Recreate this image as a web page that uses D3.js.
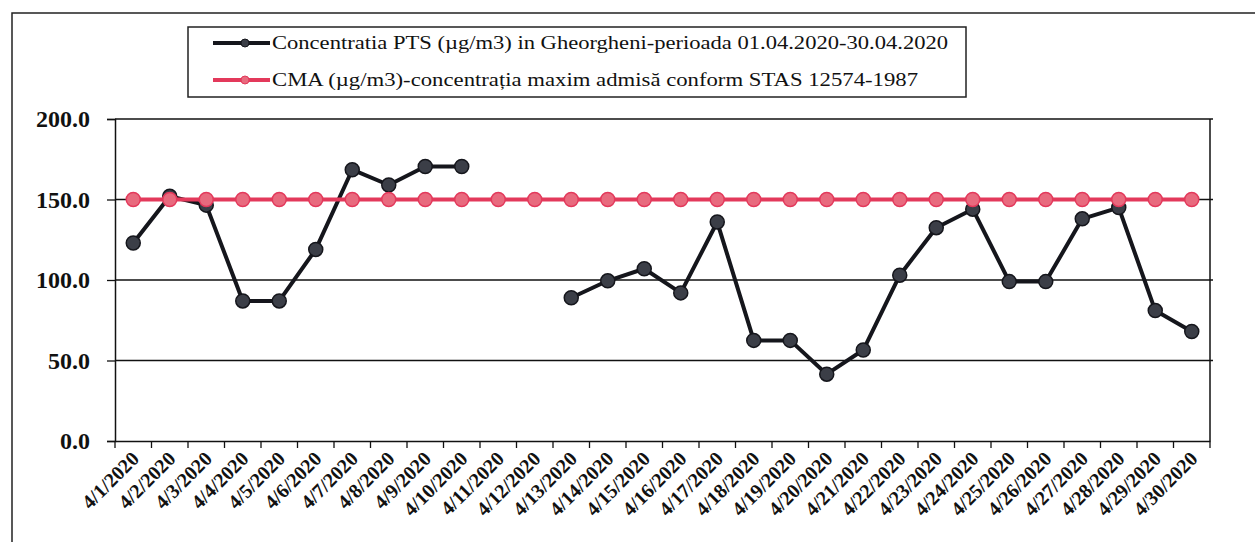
<!DOCTYPE html>
<html>
<head>
<meta charset="utf-8">
<script src="https://cdn.jsdelivr.net/npm/d3@7"></script>
<style>
  body { margin: 0; background: #fff; }
  svg { display: block; font-family: "Liberation Serif", "Times New Roman", serif; }
</style>
</head>
<body>
<svg id="chart" width="1255" height="542"></svg>
<script>
// days of april 2020
var days = ["4/1/2020","4/2/2020","4/3/2020","4/4/2020","4/5/2020","4/6/2020","4/7/2020","4/8/2020",
  "4/9/2020","4/10/2020","4/11/2020","4/12/2020","4/13/2020","4/14/2020","4/15/2020","4/16/2020",
  "4/17/2020","4/18/2020","4/19/2020","4/20/2020","4/21/2020","4/22/2020","4/23/2020","4/24/2020",
  "4/25/2020","4/26/2020","4/27/2020","4/28/2020","4/29/2020","4/30/2020"];

// PTS concentration (null = no measurement)
var pts = [123, 152, 146.5, 87, 87, 119, 168.5, 159, 170.5, 170.5, null, null, 89, 99.5, 107, 92,
  136, 62.5, 62.5, 41.5, 56.5, 103, 132.5, 144, 99, 99, 138, 145, 81, 68];

// CMA limit
var cma = [150,150,150,150,150,150,150,150,150,150,150,150,150,150,150,150,150,150,150,150,
  150,150,150,150,150,150,150,150,150,150];

var yTicks = [0, 50, 100, 150, 200];

var legendLabels = ["Concentratia PTS (\u00b5g/m3) in Gheorgheni-perioada 01.04.2020-30.04.2020",
  "CMA (\u00b5g/m3)-concentra\u021bia maxim admis\u0103 conform STAS 12574-1987"];

var svg = d3.select("#chart");
var plotLeft = 115, plotRight = 1210, plotTop = 119, plotBottom = 441;

// outer frame
svg.append("rect")
  .attr("x", 12).attr("y", 13).attr("width", 1260).attr("height", 560)
  .attr("fill", "#fff").attr("stroke", "#222").attr("stroke-width", 1.5);

var xScale = d3.scaleBand().domain(days).range([plotLeft, plotRight]);
var yScale = d3.scaleLinear().domain([0, 200]).range([plotBottom, plotTop]);

// gridlines
svg.append("g").selectAll("line")
  .data(yTicks.filter(function(d) { return d > 0; }))
  .enter().append("line")
  .attr("x1", plotLeft).attr("x2", plotRight + 3)
  .attr("y1", function(d) { return yScale(d); })
  .attr("y2", function(d) { return yScale(d); })
  .attr("stroke", "#111").attr("stroke-width", 1.3);

// right border
svg.append("line")
  .attr("x1", plotRight).attr("x2", plotRight)
  .attr("y1", plotTop).attr("y2", plotBottom)
  .attr("stroke", "#111").attr("stroke-width", 1.5);

// y axis
var yAxis = d3.axisLeft(yScale)
  .tickValues(yTicks)
  .tickFormat(d3.format(".1f"))
  .tickSize(8)
  .tickPadding(17);

var gy = svg.append("g")
  .attr("transform", "translate(" + plotLeft + ",0)")
  .call(yAxis);
gy.select(".domain").attr("stroke", "#111").attr("stroke-width", 1.5);
gy.selectAll(".tick line").attr("stroke", "#111").attr("stroke-width", 1.3);
gy.selectAll("text")
  .attr("fill", "#111")
  .style("font-size", "24px")
  .style("font-weight", "bold")
  .style("font-family", "'Liberation Serif', serif");

// x axis (labels at band centres, ticks at band edges)
var xAxis = d3.axisBottom(xScale).tickSize(0).tickPadding(0);
var gx = svg.append("g")
  .attr("transform", "translate(0," + plotBottom + ")")
  .call(xAxis);
gx.select(".domain").attr("stroke", "#111").attr("stroke-width", 1.5);
gx.selectAll("text")
  .attr("fill", "#111")
  .attr("text-anchor", "end")
  .attr("dy", null)
  .attr("y", 0)
  .attr("transform", "translate(7,19) rotate(-45)")
  .style("font-size", "20px")
  .style("font-weight", "bold")
  .style("font-family", "'Liberation Serif', serif");

var edges = days.map(function(d) { return xScale(d); }).concat([plotRight]);
svg.append("g").selectAll("line")
  .data(edges)
  .enter().append("line")
  .attr("x1", function(d) { return d; })
  .attr("x2", function(d) { return d; })
  .attr("y1", plotBottom).attr("y2", plotBottom + 7)
  .attr("stroke", "#111").attr("stroke-width", 1.3);

function cx(i) { return xScale(days[i]) + xScale.bandwidth() / 2; }

var line = d3.line()
  .defined(function(d) { return d != null; })
  .x(function(d, i) { return cx(i); })
  .y(function(d) { return yScale(d); });

// PTS series
svg.append("path")
  .datum(pts)
  .attr("d", line)
  .attr("fill", "none")
  .attr("stroke", "#15161c")
  .attr("stroke-width", 4)
  .attr("stroke-linejoin", "round");

svg.append("g").selectAll("circle")
  .data(pts.map(function(v, i) { return {v: v, i: i}; }).filter(function(d) { return d.v != null; }))
  .enter().append("circle")
  .attr("cx", function(d) { return cx(d.i); })
  .attr("cy", function(d) { return yScale(d.v); })
  .attr("r", 7)
  .attr("fill", "#3b3e47")
  .attr("stroke", "#15161c")
  .attr("stroke-width", 1.5);

// CMA series
svg.append("path")
  .datum(cma)
  .attr("d", line)
  .attr("fill", "none")
  .attr("stroke", "#e3395b")
  .attr("stroke-width", 4);

svg.append("g").selectAll("circle")
  .data(cma)
  .enter().append("circle")
  .attr("cx", function(d, i) { return cx(i); })
  .attr("cy", function(d) { return yScale(d); })
  .attr("r", 7)
  .attr("fill", "#e86a7e")
  .attr("stroke", "#e3395b")
  .attr("stroke-width", 1.5);

// legend
var legend = svg.append("g");
legend.append("rect")
  .attr("x", 188).attr("y", 27).attr("width", 778).attr("height", 70)
  .attr("fill", "#fff").attr("stroke", "#222").attr("stroke-width", 1.5);

var legendColors = [["#15161c", "#3b3e47"], ["#e3395b", "#e86a7e"]];
var legendLen = [676, 646];
legendLabels.forEach(function(label, k) {
  var ly = 43 + k * 37;
  legend.append("line")
    .attr("x1", 213).attr("x2", 270).attr("y1", ly).attr("y2", ly)
    .attr("stroke", legendColors[k][0]).attr("stroke-width", 4);
  legend.append("circle")
    .attr("cx", 245).attr("cy", ly).attr("r", 4)
    .attr("fill", legendColors[k][1]).attr("stroke", legendColors[k][0]);
  legend.append("text")
    .attr("x", 272).attr("y", ly + 6)
    .attr("textLength", legendLen[k])
    .attr("lengthAdjust", "spacingAndGlyphs")
    .attr("fill", "#111")
    .style("font-size", "19px")
    .text(label);
});
</script>
</body>
</html>
